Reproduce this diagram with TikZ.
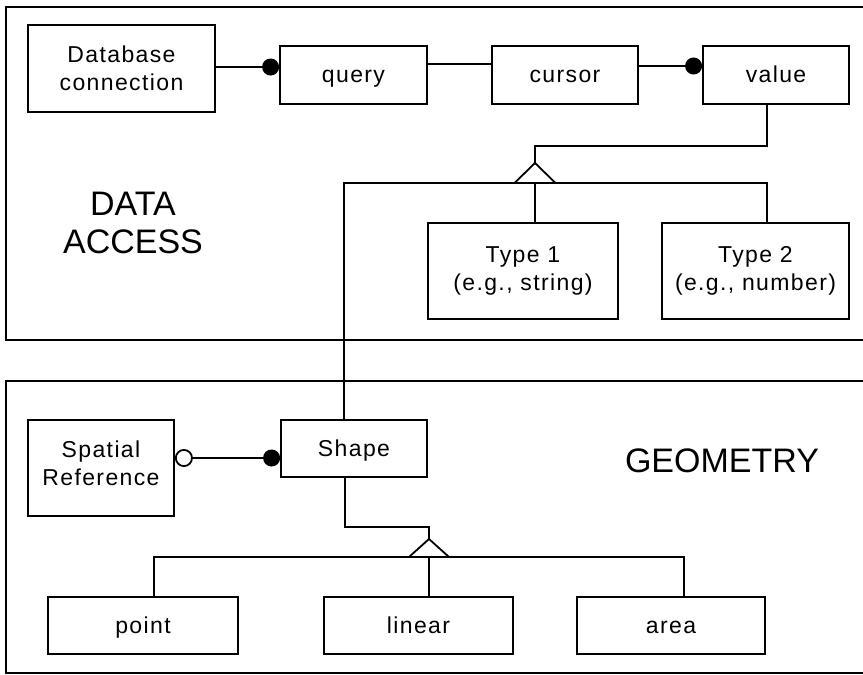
\documentclass[tikz,border=0pt]{standalone}
\usepackage{fontspec}
\setmainfont{Liberation Sans}
\newfontfamily\boxfont[LetterSpace=6]{Liberation Sans}
\usetikzlibrary{arrows.meta}

\tikzset{
  cls/.style={draw, inner sep=0pt, align=center, font=\boxfont\fontsize{23}{28}\selectfont},
  onecls/.style={cls, text height=15pt, text depth=0pt},
  title/.style={inner sep=0pt, align=center, font=\fontsize{34}{38}\selectfont},
  dot/.style={-{Circle[length=17pt]}},
}

\begin{document}
\begin{tikzpicture}[x=1pt, y=-1pt, line width=1.8pt]
    \useasboundingbox (0, 0) rectangle (863, 675);

    % the two packages
    \draw (863, 7) -| (6, 340) -- (863, 340);
    \draw (863, 381) -| (6, 673) -- (863, 673);

    \node[title, anchor=north] (dataaccess) at (133, 191.7) {DATA\\ACCESS};
    \node[title, anchor=base] (geometry) at (722, 472) {GEOMETRY};

    % data access classes
    \node[cls, minimum width=187pt, minimum height=87pt] (dbconn) at (121.5, 68.5) {Database\\connection};
    \node[onecls, minimum width=147pt, minimum height=58pt] (query) at (353.5, 75) {query};
    \node[onecls, minimum width=146pt, minimum height=58pt] (cursor) at (565, 75) {cursor};
    \node[onecls, minimum width=146pt, minimum height=58pt] (value) at (776, 75) {value};
    \node[cls, minimum width=190pt, minimum height=96pt] (type1) at (523, 271) {Type 1\\(e.g., string)};
    \node[cls, minimum width=187pt, minimum height=96pt] (type2) at (755.5, 271) {Type 2\\(e.g., number)};

    % geometry classes
    \node[cls, text depth=10pt, minimum width=146pt, minimum height=96pt] (spatref) at (101, 468) {Spatial\\Reference};
    \node[onecls, minimum width=146pt, minimum height=57pt] (shape) at (354, 448.5) {Shape};
    \node[onecls, minimum width=190pt, minimum height=57pt] (point) at (143, 625.5) {point};
    \node[onecls, minimum width=189pt, minimum height=57pt] (linear) at (418.5, 625.5) {linear};
    \node[onecls, minimum width=188pt, minimum height=57pt] (area) at (671, 625.5) {area};

    \draw
    ([yshift=1.5pt]dbconn.east) edge[dot] ([yshift=1.5pt]dbconn.east -| query.west)
    ([yshift=11pt]query.east) edge ([yshift=11pt]query.east -| cursor.west)
    ([yshift=9pt]cursor.east) edge[dot] ([yshift=9pt]cursor.east -| value.west)
    ([yshift=10pt]spatref.east) edge[{Circle[open, length=18pt]}-{Circle[length=17pt]}] ([yshift=10pt]spatref.east -| shape.west);

    % value subtypes, Shape hangs on the same bar
    \coordinate (vtip) at (535, 163);
    \coordinate (vbus) at (535, 183);
    \draw ([xshift=-9pt]value.south) -- ++(0, 41) -| (vtip);
    \draw ([xshift=-10pt]shape.north) |- (vbus) -| ([xshift=11.5pt]type2.north);
    \draw (vbus) -- ([xshift=12pt]type1.north);
    \draw[fill=white] (vtip) -- ++(-20.5, 20) -- ++(41, 0) -- cycle;

    % shape subtypes
    \coordinate (gtip) at (429, 539);
    \coordinate (gbus) at (429, 557);
    \draw ([xshift=-9pt]shape.south) -- ++(0, 49) -| (gtip);
    \draw ([xshift=11pt]point.north) |- (gbus) -| ([xshift=13pt]area.north);
    \draw (gbus) -- ([xshift=10.5pt]linear.north);
    \draw[fill=white] (gtip) -- ++(-20, 18) -- ++(40, 0) -- cycle;
\end{tikzpicture}
\end{document}
